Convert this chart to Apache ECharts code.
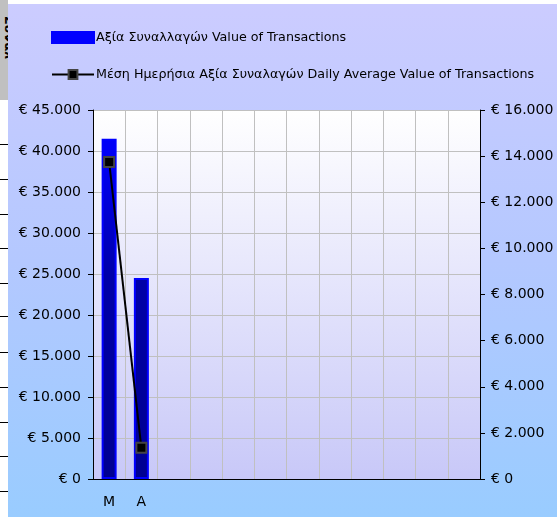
<!DOCTYPE html>
<html>
<head>
<meta charset="utf-8">
<script src="https://cdn.jsdelivr.net/npm/echarts@6/dist/echarts.min.js"></script>
<style>
  html, body { margin: 0; padding: 0; background: #ffffff; }
  .page { position: relative; width: 557px; height: 517px; overflow: hidden; }
  #chart { position: absolute; left: 8px; top: 4px; width: 549px; height: 513px; }
  .stray-box { position: absolute; left: 0; top: 0; width: 8px; height: 100px; background: #c0c0c0; overflow: hidden; }
  .stray-box span { position: absolute; left: -12px; top: 30px; transform: rotate(90deg); font: bold 13px "DejaVu Sans"; color: #000; white-space: nowrap; }
  .stray-tick { position: absolute; left: 0; width: 8px; height: 1px; background: #000; }
</style>
</head>
<body>
<div class="page">
  <div class="stray-box"><span>Συναλ</span></div>
  <div id="chart"></div>
</div>
<script>
// months (only first two shown in the source chart)
const categories = ["M", "A", "", "", "", "", "", "", "", "", "", ""];
const valueOfTransactions = [41500, 24500];
const dailyAverage = [13750, 1350];
const leftTicks = [0, 5000, 10000, 15000, 20000, 25000, 30000, 35000, 40000, 45000];
const rightTicks = [0, 2000, 4000, 6000, 8000, 10000, 12000, 14000, 16000];
const strayTickY = [144, 179, 214, 248, 283, 316, 352, 387, 422, 456, 491];

const barName = "Αξία Συναλλαγών Value of Transactions";
const lineName = "Μέση Ημερήσια Αξία Συναλαγών Daily Average Value of Transactions";

// leftover tick marks of the neighbouring chart
const page = document.querySelector(".page");
strayTickY.forEach(function (y) {
  const d = document.createElement("div");
  d.className = "stray-tick";
  d.style.top = y + "px";
  page.appendChild(d);
});

function euro(v) {
  return "€ " + String(v).replace(/\B(?=(\d{3})+(?!\d))/g, ".");
}

const font = "DejaVu Sans";
const myChart = echarts.init(document.getElementById("chart"));

myChart.setOption({
  animation: false,
  backgroundColor: new echarts.graphic.LinearGradient(0, 0, 0, 1, [
    { offset: 0, color: "#ccccff" },
    { offset: 0.5, color: "#b4c8ff" },
    { offset: 1, color: "#99ccff" },
  ]),
  textStyle: { fontFamily: font },
  legend: {
    orient: "vertical",
    left: 38,
    top: 22,
    itemWidth: 42,
    itemHeight: 11,
    itemGap: 24,
    textStyle: { fontFamily: font, fontSize: 12.7, color: "#000", padding: [0, 0, 0, -3] },
    data: [{ name: barName, icon: "rect" }, lineName],
  },
  grid: {
    left: 85,
    right: 77,
    top: 106,
    bottom: 38,
    show: true,
    borderWidth: 0,
    backgroundColor: new echarts.graphic.LinearGradient(0, 0, 0, 1, [
      { offset: 0, color: "#ffffff" },
      { offset: 1, color: "#c8c8f8" },
    ]),
  },
  xAxis: {
    type: "category",
    data: categories,
    boundaryGap: true,
    axisLine: { lineStyle: { color: "#000", width: 1 } },
    axisTick: { inside: true, length: 5, lineStyle: { color: "#000" } },
    axisLabel: { color: "#000", fontSize: 14, margin: 16, interval: 0 },
    splitLine: { show: true, lineStyle: { color: "#c0c0c0" } },
  },
  yAxis: [
    {
      type: "value",
      min: leftTicks[0],
      max: leftTicks[leftTicks.length - 1],
      interval: leftTicks[1] - leftTicks[0],
      axisLine: { show: true, lineStyle: { color: "#000" } },
      axisTick: { show: true, length: 5, lineStyle: { color: "#000" } },
      axisLabel: { color: "#000", fontSize: 14, margin: 12, formatter: euro },
      splitLine: { show: true, lineStyle: { color: "#c0c0c0" } },
    },
    {
      type: "value",
      position: "right",
      min: rightTicks[0],
      max: rightTicks[rightTicks.length - 1],
      interval: rightTicks[1] - rightTicks[0],
      axisLine: { show: true, lineStyle: { color: "#000" } },
      axisTick: { show: true, length: 5, lineStyle: { color: "#000" } },
      axisLabel: { color: "#000", fontSize: 14, margin: 11, formatter: euro },
      splitLine: { show: false },
    },
  ],
  series: [
    {
      name: barName,
      type: "bar",
      yAxisIndex: 0,
      barWidth: 15,
      data: valueOfTransactions,
      itemStyle: {
        borderColor: "#0000ff",
        borderWidth: 2,
        color: new echarts.graphic.LinearGradient(0, 106, 0, 475, [
          { offset: 0, color: "#0000ff" },
          { offset: 0.15, color: "#0000f0" },
          { offset: 0.45, color: "#0000a8" },
          { offset: 1, color: "#000090" },
        ], true),
      },
    },
    {
      name: lineName,
      type: "line",
      yAxisIndex: 1,
      data: dailyAverage,
      symbol: "rect",
      symbolSize: 10,
      lineStyle: { color: "#000", width: 2 },
      itemStyle: { color: "#000", borderColor: "#444", borderWidth: 2 },
      z: 5,
    },
  ],
});
</script>
</body>
</html>
